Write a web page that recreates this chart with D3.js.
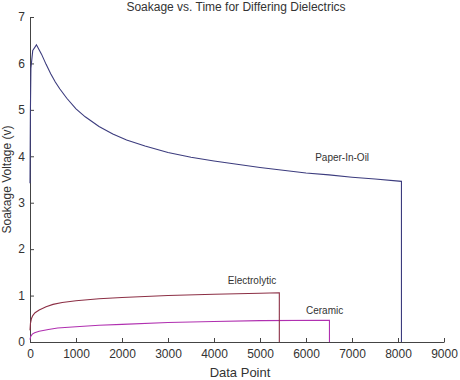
<!DOCTYPE html>
<html>
<head>
<meta charset="utf-8">
<script src="https://cdn.jsdelivr.net/npm/d3@7"></script>
<style>
  body { margin: 0; background: #fff; }
  text { font-family: "Liberation Sans", Arial, sans-serif; fill: #333; }
</style>
</head>
<body>
<svg id="chart" width="460" height="380"></svg>
<script>
const title = "Soakage vs. Time for Differing Dielectrics"
const xTicks = [0, 1000, 2000, 3000, 4000, 5000, 6000, 7000, 8000, 9000]
const yTicks = [0, 1, 2, 3, 4, 5, 6, 7]

// data point, soakage voltage
const paperInOil = [[0,3.42],[8,4.9],[20,5.9],[60,6.28],[140,6.4],[250,6.2],[350,5.98],[450,5.78],
    [550,5.6],[650,5.45],[800,5.25],[1000,5.02],[1200,4.85],[1500,4.64],[1800,4.48],[2100,4.35],
    [2500,4.22],[3000,4.08],[3500,3.98],[4000,3.9],[4500,3.83],[5000,3.76],[5500,3.7],[6000,3.64],
    [6500,3.6],[7000,3.55],[7500,3.51],[8075,3.46],[8075,0]]
const electrolytic = [[0,0.25],[10,0.4],[30,0.5],[60,0.57],[110,0.63],[200,0.69],[350,0.76],
    [500,0.81],[700,0.85],[1000,0.89],[1500,0.93],[2000,0.96],[3000,1.0],[4000,1.03],[5000,1.05],
    [5420,1.06],[5420,0]]
const ceramic = [[0,0.05],[15,0.12],[50,0.17],[100,0.2],[200,0.23],[400,0.27],[600,0.3],[1000,0.33],
    [1500,0.36],[2000,0.38],[3000,0.42],[4000,0.44],[5000,0.46],[6510,0.47],[6510,0]]

let svg = d3.select("#chart")

let x = d3.scaleLinear().domain([0, 9000]).range([30, 444])
let y = d3.scaleLinear().domain([0, 7]).range([342, 17])

let line = d3.line()
    .x(d => x(d[0]))
    .y(d => y(d[1]))

// axes, matlab style ticks pointing inward
let xAxis = svg.append("g")
    .attr("transform", "translate(0," + y(0) + ")")
    .call(d3.axisBottom(x).tickValues(xTicks).tickFormat(d3.format("d"))
        .tickSizeInner(-4).tickSizeOuter(0).tickPadding(7))
let yAxis = svg.append("g")
    .attr("transform", "translate(" + x(0) + ",0)")
    .call(d3.axisLeft(y).tickValues(yTicks).tickFormat(d3.format("d"))
        .tickSizeInner(-4).tickSizeOuter(0).tickPadding(5))

svg.selectAll(".domain, .tick line").attr("stroke", "#444")
svg.selectAll(".tick text").style("font-size", "12px").attr("fill", "#333")

let series = [
    { data: ceramic, color: "#b030b0" },
    { data: electrolytic, color: "#8c2f45" },
    { data: paperInOil, color: "#3c3c7e" }
]

svg.selectAll(".series")
    .data(series)
    .join("path")
    .attr("class", "series")
    .attr("d", d => line(d.data))
    .attr("fill", "none")
    .attr("stroke", d => d.color)
    .attr("stroke-width", 1.1)

// labels on the curves
svg.append("text").attr("x", x(6200)).attr("y", y(3.9)).text("Paper-In-Oil").style("font-size", "10px")
svg.append("text").attr("x", x(4300)).attr("y", y(1.25)).text("Electrolytic").style("font-size", "10px")
svg.append("text").attr("x", x(6000)).attr("y", y(0.6)).text("Ceramic").style("font-size", "10px")

// title sits right at the top edge, like the original
svg.append("text")
    .attr("x", 236).attr("y", 11)
    .attr("text-anchor", "middle")
    .style("font-size", "12px")
    .text(title)

svg.append("text")
    .attr("x", 240).attr("y", 377)
    .attr("text-anchor", "middle")
    .style("font-size", "13px")
    .text("Data Point")

svg.append("text")
    .attr("transform", "translate(11," + ((17 + 342) / 2) + ") rotate(-90)")
    .attr("text-anchor", "middle")
    .style("font-size", "12px")
    .text("Soakage Voltage (v)")
</script>
</body>
</html>
